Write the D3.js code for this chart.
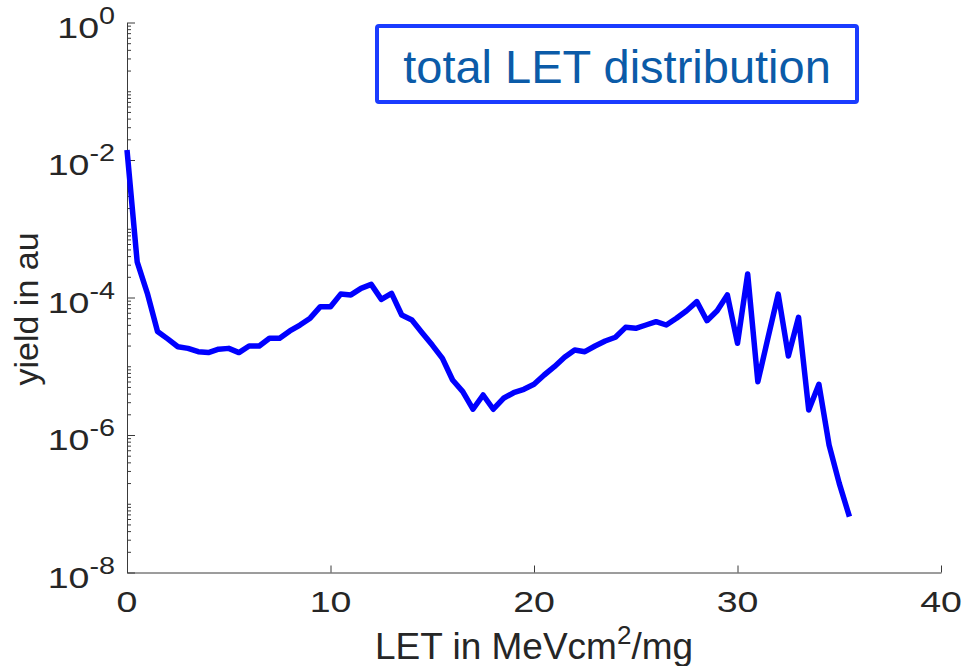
<!DOCTYPE html>
<html>
<head>
<meta charset="utf-8">
<script src="https://cdn.jsdelivr.net/npm/d3@7"></script>
<style>
  body { margin: 0; background: #fff; }
  svg { display: block; font-family: "Liberation Sans", Arial, sans-serif; }
</style>
</head>
<body>
<svg id="chart"></svg>
<script>
"use strict";

// LET in MeV cm2/mg
var letValues = [
  0, 0.5, 1, 1.5, 2, 2.5, 3, 3.5, 4, 4.5,
  5, 5.5, 6, 6.5, 7, 7.5, 8, 8.5, 9, 9.5,
  10, 10.5, 11, 11.5, 12, 12.5, 13, 13.5, 14, 14.5,
  15, 15.5, 16, 16.5, 17, 17.5, 18, 18.5, 19, 19.5,
  20, 20.5, 21, 21.5, 22, 22.5, 23, 23.5, 24, 24.5,
  25, 25.5, 26, 26.5, 27, 27.5, 28, 28.5, 29, 29.5,
  30, 30.5, 31, 31.5, 32, 32.5, 33, 33.5, 34, 34.5,
  35, 35.5
];

// yield in au
var yieldValues = [
  1.4e-2, 3.3e-4, 1.15e-4, 3.2e-5, 2.5e-5, 1.92e-5, 1.82e-5, 1.63e-5, 1.58e-5, 1.77e-5,
  1.82e-5, 1.58e-5, 1.97e-5, 1.97e-5, 2.55e-5, 2.55e-5, 3.26e-5, 3.98e-5, 5.0e-5, 7.35e-5,
  7.35e-5, 1.12e-4, 1.09e-4, 1.36e-4, 1.55e-4, 9.4e-5, 1.15e-4, 5.56e-5, 4.7e-5, 3.08e-5,
  2.03e-5, 1.3e-5, 6.3e-6, 4.27e-6, 2.37e-6, 3.82e-6, 2.37e-6, 3.42e-6, 4.12e-6, 4.62e-6,
  5.46e-6, 7.46e-6, 9.85e-6, 1.35e-5, 1.72e-5, 1.63e-5, 1.97e-5, 2.33e-5, 2.64e-5, 3.68e-5,
  3.56e-5, 3.98e-5, 4.45e-5, 3.98e-5, 4.98e-5, 6.43e-5, 8.7e-5, 4.6e-5, 6.43e-5, 1.09e-4,
  2.16e-5, 2.2e-4, 5.96e-6, 2.6e-5, 1.12e-4, 1.41e-5, 5.15e-5, 2.31e-6, 5.46e-6, 7.16e-7,
  1.98e-7, 6.5e-8
];

var xTicks = [0, 10, 20, 30, 40];
var yMajorExp = [0, -2, -4, -6, -8];

var titleText = "total LET distribution";
var xLabelMain = "LET in MeVcm";
var xLabelSup = "2";
var xLabelTail = "/mg";
var yLabelText = "yield in au";

var config = {
  width: 962,
  height: 666,
  plot: { left: 127, right: 941, top: 22.5, bottom: 572.5 },
  textColor: "#262626",
  axisColor: "#3a3a3a",
  lineColor: "#0000ff",
  stretch: 1.25   // tick labels look horizontally stretched in the reference
};

var data = letValues.map(function(t, i) { return { t: t, v: yieldValues[i] }; });

var svg = d3.select("#chart")
  .attr("width", config.width)
  .attr("height", config.height);

var xScale = d3.scaleLinear()
  .domain([0, 40])
  .range([config.plot.left, config.plot.right]);

var yScale = d3.scaleLog()
  .domain([1e-8, 1])
  .range([config.plot.bottom, config.plot.top]);

// y tick values: majors every 2 decades, minor at every other log step
var yMinor = [];
for (var k = -8; k < 0; k++) {
  for (var m = 1; m < 10; m++) {
    if (m === 1 && k % 2 === 0) continue;
    yMinor.push(m * Math.pow(10, k));
  }
}
var yMajor = yMajorExp.map(function(e) { return Math.pow(10, e); });

// ---- axes ----
svg.append("g")
  .attr("transform", "translate(0," + config.plot.bottom + ")")
  .call(d3.axisBottom(xScale).tickValues(xTicks).tickSizeInner(-7).tickSizeOuter(0).tickFormat(""));

svg.append("g")
  .attr("transform", "translate(" + config.plot.left + ",0)")
  .call(d3.axisLeft(yScale).tickValues(yMajor).tickSizeInner(-8).tickSizeOuter(0).tickFormat(""));

var yMinorG = svg.append("g")
  .attr("transform", "translate(" + config.plot.left + ",0)")
  .call(d3.axisLeft(yScale).tickValues(yMinor).tickSizeInner(-4).tickSizeOuter(0).tickFormat(""));
yMinorG.select(".domain").remove();

svg.selectAll(".domain, .tick line")
  .attr("stroke", config.axisColor)
  .attr("stroke-width", 1);

// x tick labels
svg.append("g").selectAll("text")
  .data(xTicks)
  .enter().append("text")
  .attr("transform", function(d) {
    return "translate(" + xScale(d) + "," + (config.plot.bottom + 39.5) + ") scale(" + config.stretch + ",1)";
  })
  .attr("text-anchor", "middle")
  .attr("fill", config.textColor)
  .attr("font-size", 30)
  .text(function(d) { return d; });

// y tick labels 10^n
var yLab = svg.append("g").selectAll("text")
  .data(yMajorExp)
  .enter().append("text")
  .attr("transform", function(d) {
    return "translate(115," + (yScale(Math.pow(10, d)) + 15) + ") scale(" + config.stretch + ",1)";
  })
  .attr("text-anchor", "end")
  .attr("fill", config.textColor);
yLab.append("tspan")
  .attr("font-size", 30)
  .text("10");
yLab.append("tspan")
  .attr("font-size", 23)
  .attr("dy", -14)
  .text(function(d) { return d === 0 ? "0" : "-" + Math.abs(d); });

// ---- data line ----
var line = d3.line()
  .x(function(d) { return xScale(d.t); })
  .y(function(d) { return yScale(d.v); });

svg.append("path")
  .datum(data)
  .attr("d", line)
  .attr("fill", "none")
  .attr("stroke", config.lineColor)
  .attr("stroke-width", 5.5)
  .attr("stroke-linejoin", "round");

// ---- axis labels ----
var xl = svg.append("text")
  .attr("x", 375)
  .attr("y", 659)
  .attr("fill", config.textColor)
  .attr("font-size", 37);
xl.append("tspan").text(xLabelMain);
xl.append("tspan").attr("font-size", 26).attr("dy", -15).text(xLabelSup);
xl.append("tspan").attr("dy", 15).text(xLabelTail);

svg.append("text")
  .attr("transform", "translate(38,309) rotate(-90)")
  .attr("text-anchor", "middle")
  .attr("fill", config.textColor)
  .attr("font-size", 34)
  .text(yLabelText);

// ---- title box ----
svg.append("rect")
  .attr("x", 377)
  .attr("y", 26)
  .attr("width", 480)
  .attr("height", 76)
  .attr("rx", 2)
  .attr("fill", "#fff")
  .attr("stroke", "#1a3cff")
  .attr("stroke-width", 4);

svg.append("text")
  .attr("x", 617)
  .attr("y", 82.5)
  .attr("text-anchor", "middle")
  .attr("fill", "#0b5ba8")
  .attr("font-size", 47)
  .text(titleText);
</script>
</body>
</html>
